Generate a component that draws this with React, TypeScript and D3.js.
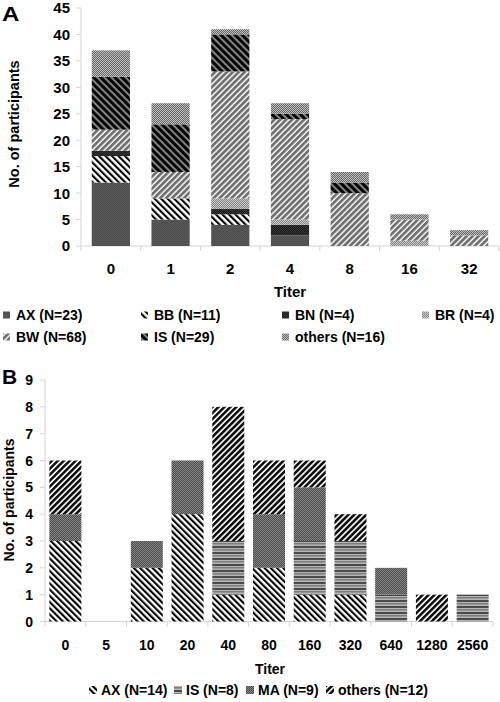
import React from "react";
import * as d3 from "d3";

// ---------- Panel A data ----------
const categoriesA = ["0", "1", "2", "4", "8", "16", "32"];
const seriesKeysA = ["AX", "BB", "BN", "BR", "BW", "IS", "others"];
const legendLabelsA = ["AX (N=23)", "BB (N=11)", "BN (N=4)", "BR (N=4)", "BW (N=68)", "IS (N=29)", "others (N=16)"];
const AX_A = [12, 5, 4, 2, 0, 0, 0];
const BB_A = [5, 4, 2, 0, 0, 0, 0];
const BN_A = [1, 0, 1, 2, 0, 0, 0];
const BR_A = [0, 0, 2, 1, 0, 1, 0];
const BW_A = [4, 5, 24, 19, 10, 4, 2];
const IS_A = [10, 9, 7, 1, 2, 0, 0];
const others_A = [5, 4, 1, 2, 2, 1, 1];
const yTicksA = [0, 5, 10, 15, 20, 25, 30, 35, 40, 45];

// ---------- Panel B data ----------
const categoriesB = ["0", "5", "10", "20", "40", "80", "160", "320", "640", "1280", "2560"];
const seriesKeysB = ["AX", "IS", "MA", "others"];
const legendLabelsB = ["AX (N=14)", "IS (N=8)", "MA (N=9)", "others (N=12)"];
const AX_B = [3, 0, 2, 4, 1, 2, 1, 1, 0, 0, 0];
const IS_B = [0, 0, 0, 0, 2, 0, 2, 2, 1, 0, 1];
const MA_B = [1, 0, 1, 2, 0, 2, 2, 0, 1, 0, 0];
const others_B = [2, 0, 0, 0, 5, 2, 1, 1, 0, 1, 0];
const yTicksB = [0, 1, 2, 3, 4, 5, 6, 7, 8, 9];

const valuesA: Record<string, number[]> = { AX: AX_A, BB: BB_A, BN: BN_A, BR: BR_A, BW: BW_A, IS: IS_A, others: others_A };
const valuesB: Record<string, number[]> = { AX: AX_B, IS: IS_B, MA: MA_B, others: others_B };

const FONT = "'Liberation Sans', Arial, sans-serif";
const AXIS_COLOR = "#d4d4d4";

const fillA: Record<string, string> = {
  AX: "url(#pA_AX)", BB: "url(#pA_BB)", BN: "url(#pA_BN)", BR: "url(#pA_BR)",
  BW: "url(#pA_BW)", IS: "url(#pA_IS)", others: "url(#pA_OT)",
};
const fillB: Record<string, string> = {
  AX: "url(#pB_AX)", IS: "url(#pB_IS)", MA: "url(#pB_MA)", others: "url(#pB_OT)",
};

function Stripe({ id, period, width, angle, bg, fg }: { id: string; period: number; width: number; angle: number; bg: string; fg: string }) {
  return (
    <pattern id={id} width={period} height={period} patternUnits="userSpaceOnUse" patternTransform={`rotate(${angle})`}>
      <rect width={period} height={period} fill={bg} />
      <rect width={width} height={period} fill={fg} />
    </pattern>
  );
}

function Checker({ id, a, b }: { id: string; a: string; b: string }) {
  return (
    <pattern id={id} width={2} height={2} patternUnits="userSpaceOnUse">
      <rect width={2} height={2} fill={a} />
      <rect width={1} height={1} fill={b} />
      <rect x={1} y={1} width={1} height={1} fill={b} />
    </pattern>
  );
}

function buildTable(cats: string[], keys: string[], vals: Record<string, number[]>) {
  return cats.map((c, i) => {
    const row: any = { cat: c };
    keys.forEach((k) => (row[k] = vals[k][i]));
    return row;
  });
}

export default function App() {
  const xA = d3.scaleBand().domain(categoriesA).range([81, 499]).paddingInner(0.36).paddingOuter(0.18);
  const yA = d3.scaleLinear().domain([0, 45]).range([246, 8]);
  const stackA = d3.stack().keys(seriesKeysA)(buildTable(categoriesA, seriesKeysA, valuesA));

  const xB = d3.scaleBand().domain(categoriesB).range([45, 493]).paddingInner(0.214).paddingOuter(0.107);
  const yB = d3.scaleLinear().domain([0, 9]).range([621.5, 380]);
  const stackB = d3.stack().keys(seriesKeysB)(buildTable(categoriesB, seriesKeysB, valuesB));

  const boundariesA = categoriesA.map((c) => xA(c)! - (xA.step() - xA.bandwidth()) / 2).concat([499]);
  const boundariesB = categoriesB.map((c) => xB(c)! - (xB.step() - xB.bandwidth()) / 2).concat([493]);

  const legendAPos = [
    [3, 315], [141, 315], [282, 315], [422, 315],
    [3, 337], [141, 337], [282, 337],
  ];
  const legendBPos = [[89, 690], [174, 690], [246, 690], [326, 690]];

  return (
    <svg width={500} height={702} style={{ position: "absolute", left: 0, top: 0, background: "#fff" }} fontFamily={FONT}>
      <defs>
        <Checker id="pA_AX" a="#585858" b="#4e4e4e" />
        <Stripe id="pA_BB" period={4.6} width={2.1} angle={-45} bg="#ffffff" fg="#000000" />
        <Checker id="pA_BN" a="#1a1a1a" b="#383838" />
        <Checker id="pA_BR" a="#858585" b="#cccccc" />
        <Stripe id="pA_BW" period={4.2} width={2.8} angle={45} bg="#ffffff" fg="#707070" />
        <Stripe id="pA_IS" period={5} width={3.1} angle={-45} bg="#8a8a8a" fg="#050505" />
        <Checker id="pA_OT" a="#666666" b="#c0c0c0" />
        <Stripe id="pB_AX" period={4.4} width={2.1} angle={-45} bg="#ffffff" fg="#000000" />
        <pattern id="pB_IS" width={6} height={6} patternUnits="userSpaceOnUse">
          <rect width={6} height={6} fill="#b4b4b4" />
          <rect y={0} width={6} height={2} fill="#4a4a4a" />
          <rect y={3} width={6} height={1.5} fill="#7c7c7c" />
        </pattern>
        <Checker id="pB_MA" a="#484848" b="#888888" />
        <Stripe id="pB_OT" period={4.2} width={2.6} angle={45} bg="#ffffff" fg="#111111" />
      </defs>

      {/* ================= Panel A ================= */}
      <text transform="translate(2,21) scale(1.2,1)" fontSize={20} fontWeight="bold">A</text>
      <line x1={81} x2={81} y1={yA(45)} y2={yA(0)} stroke={AXIS_COLOR} />
      <line x1={81} x2={499} y1={yA(0)} y2={yA(0)} stroke={AXIS_COLOR} />
      {yTicksA.map((t) => (
        <g key={"ya" + t}>
          <line x1={76} x2={81} y1={yA(t)} y2={yA(t)} stroke={AXIS_COLOR} />
          <text x={70} y={yA(t)} dy="0.36em" textAnchor="end" fontSize={15} fontWeight="bold">{t}</text>
        </g>
      ))}
      {boundariesA.map((bx, i) => (
        <line key={"xta" + i} x1={bx} x2={bx} y1={yA(0)} y2={yA(0) + 5} stroke={AXIS_COLOR} />
      ))}
      {stackA.map((s) => (
        <g key={s.key}>
          {s.map((d, i) => (
            d[1] - d[0] > 0 ? (
              <rect key={i} x={xA(categoriesA[i])} width={xA.bandwidth()} y={yA(d[1])} height={yA(d[0]) - yA(d[1])} fill={fillA[s.key]} />
            ) : null
          ))}
        </g>
      ))}
      {categoriesA.map((c) => (
        <text key={"xla" + c} x={xA(c)! + xA.bandwidth() / 2} y={269} dy="0.36em" textAnchor="middle" fontSize={15} fontWeight="bold">{c}</text>
      ))}
      <text x={290} y={292} dy="0.36em" textAnchor="middle" fontSize={15} fontWeight="bold">Titer</text>
      <text transform="translate(14,124) rotate(-90)" dy="0.36em" textAnchor="middle" fontSize={14.5} fontWeight="bold">No. of participants</text>
      {seriesKeysA.map((k, i) => (
        <g key={"lga" + k} transform={`translate(${legendAPos[i][0]},${legendAPos[i][1]})`}>
          <rect x={0} y={-3.5} width={7} height={7} fill={fillA[k]} />
          <text x={13} y={0} dy="0.36em" fontSize={14} fontWeight="bold">{legendLabelsA[i]}</text>
        </g>
      ))}

      {/* ================= Panel B ================= */}
      <text transform="translate(2,384)" fontSize={21} fontWeight="bold">B</text>
      <line x1={45} x2={45} y1={yB(9)} y2={yB(0)} stroke={AXIS_COLOR} />
      <line x1={45} x2={493} y1={yB(0)} y2={yB(0)} stroke={AXIS_COLOR} />
      {yTicksB.map((t) => (
        <g key={"yb" + t}>
          <line x1={40} x2={45} y1={yB(t)} y2={yB(t)} stroke={AXIS_COLOR} />
          <text x={33} y={yB(t)} dy="0.36em" textAnchor="end" fontSize={14} fontWeight="bold">{t}</text>
        </g>
      ))}
      {boundariesB.map((bx, i) => (
        <line key={"xtb" + i} x1={bx} x2={bx} y1={yB(0)} y2={yB(0) + 5} stroke={AXIS_COLOR} />
      ))}
      {stackB.map((s) => (
        <g key={s.key}>
          {s.map((d, i) => (
            d[1] - d[0] > 0 ? (
              <rect key={i} x={xB(categoriesB[i])} width={xB.bandwidth()} y={yB(d[1])} height={yB(d[0]) - yB(d[1])} fill={fillB[s.key]} />
            ) : null
          ))}
        </g>
      ))}
      {categoriesB.map((c) => (
        <text key={"xlb" + c} x={xB(c)! + xB.bandwidth() / 2} y={645} dy="0.36em" textAnchor="middle" fontSize={14} fontWeight="bold">{c}</text>
      ))}
      <text x={270} y={669} dy="0.36em" textAnchor="middle" fontSize={14} fontWeight="bold">Titer</text>
      <text transform="translate(9,500) rotate(-90)" dy="0.36em" textAnchor="middle" fontSize={14} fontWeight="bold">No. of participants</text>
      {seriesKeysB.map((k, i) => (
        <g key={"lgb" + k} transform={`translate(${legendBPos[i][0]},${legendBPos[i][1]})`}>
          <rect x={0} y={-4} width={8} height={8} fill={fillB[k]} />
          <text x={12} y={0} dy="0.36em" fontSize={14} fontWeight="bold">{legendLabelsB[i]}</text>
        </g>
      ))}
    </svg>
  );
}
